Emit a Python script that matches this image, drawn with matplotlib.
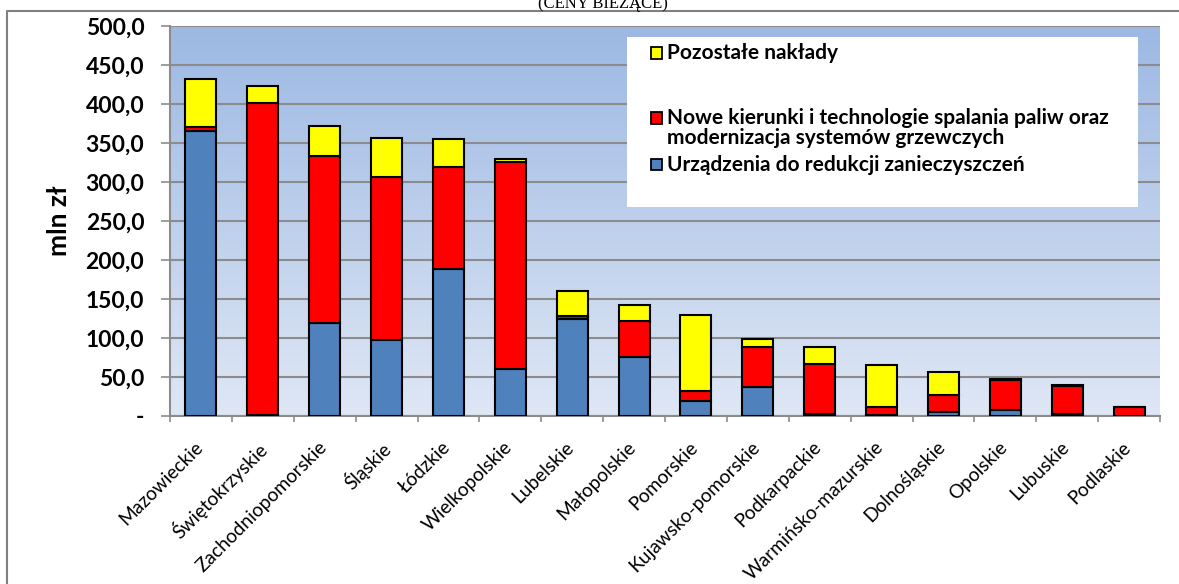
import numpy as np
import matplotlib
matplotlib.use('Agg')
import matplotlib.pyplot as plt
import matplotlib.transforms as mtransforms
from matplotlib.patches import Rectangle
from matplotlib.lines import Line2D
from matplotlib.ticker import FuncFormatter, FixedLocator

# data (mln zł)
regions = ['Mazowieckie', 'Świętokrzyskie', 'Zachodniopomorskie', 'Śląskie', 'Łódzkie',
           'Wielkopolskie', 'Lubelskie', 'Małopolskie', 'Pomorskie', 'Kujawsko-pomorskie',
           'Podkarpackie', 'Warmińsko-mazurskie', 'Dolnośląskie', 'Opolskie', 'Lubuskie', 'Podlaskie']
urzadzenia = [365, 1, 119, 98, 188, 60, 124, 76, 19, 37, 2, 1, 5, 8, 3, 0]
nowe_kierunki = [5, 400, 214, 208, 131, 266, 4, 46, 13, 51, 65, 10, 22, 38, 35, 11]
pozostale = [62, 22, 39, 50, 36, 3, 32, 20, 97, 11, 21, 55, 29, 2, 2, 1]

series_labels = ['Pozostałe nakłady',
                 ['Nowe kierunki i technologie spalania paliw oraz', 'modernizacja systemów grzewczych'],
                 'Urządzenia do redukcji zanieczyszczeń']
c_blue, c_red, c_yellow = '#4F81BD', '#FF0000', '#FFFF00'

W, H = 1179, 584
plt.rcParams['font.family'] = ['Lato', 'DejaVu Sans']

fig = plt.figure(figsize=(W / 100, H / 100), dpi=100)
ax = fig.add_axes([170 / W, 1 - 416 / H, (1160 - 170) / W, (416 - 26) / H])


def fpx(x, y):
    # pixel -> figure fraction
    return x / W, 1 - y / H


# background gradient of the plot area
grad = np.linspace(0, 1, 256).reshape(-1, 1)
cmap = matplotlib.colors.LinearSegmentedColormap.from_list('bg', ['#DFE7F5', '#9CB8E3'])
ax.imshow(grad, extent=[-0.5, 15.5, 0, 500], origin='lower', aspect='auto', cmap=cmap, zorder=0)

x = np.arange(len(regions))
width = 0.5
b1 = np.array(urzadzenia)
b2 = b1 + np.array(nowe_kierunki)
ax.bar(x, urzadzenia, width, color=c_blue, edgecolor='black', linewidth=1.5, zorder=3)
ax.bar(x, nowe_kierunki, width, bottom=b1, color=c_red, edgecolor='black', linewidth=1.5, zorder=3)
ax.bar(x, pozostale, width, bottom=b2, color=c_yellow, edgecolor='black', linewidth=1.5, zorder=3)

ax.set_xlim(-0.5, 15.5)
ax.set_ylim(0, 500)
ax.set_yticks(np.arange(0, 501, 50))
ax.yaxis.set_major_formatter(FuncFormatter(lambda v, p: '-' if v == 0 else f'{v:.1f}'.replace('.', ',')))
ax.grid(axis='y', color='#8C8C8C', linewidth=1.5, zorder=1)
ax.set_axisbelow(True)
for t in ax.get_yticklabels():
    t.set_fontweight('bold')
    t.set_fontsize(16.5)
ax.tick_params(axis='y', length=6.5, width=1.2, color='#8C8C8C', pad=12)

ax.set_xticks(x)
ax.set_xticklabels(regions, rotation=45, ha='right', va='top', rotation_mode='anchor', fontsize=13.8)
ax.tick_params(axis='x', which='major', length=0, pad=16)
shift = mtransforms.ScaledTranslation(-7 / 100, 0, fig.dpi_scale_trans)
for t in ax.get_xticklabels():
    t.set_transform(t.get_transform() + shift)
ax.xaxis.set_minor_locator(FixedLocator(np.arange(-0.5, 16, 1)))
ax.tick_params(axis='x', which='minor', length=4.5, width=1.2, color='#8C8C8C')

for s in ['top', 'right']:
    ax.spines[s].set_visible(False)
for s in ['left', 'bottom']:
    ax.spines[s].set_color('#8C8C8C')
    ax.spines[s].set_linewidth(1.5)

fig.text(*fpx(59, 221), 'mln zł', rotation=90, ha='center', va='center', fontsize=19, fontweight='bold')

# legend box drawn by hand (Excel-like spacing)
x0, y0 = fpx(627, 207)
x1, y1 = fpx(1138, 37)
fig.add_artist(Rectangle((x0, y0), x1 - x0, y1 - y0, transform=fig.transFigure,
                         facecolor='white', edgecolor='none', zorder=5))
entries = [(c_yellow, series_labels[0], 53), (c_red, series_labels[1], 118), (c_blue, series_labels[2], 165)]
for col, lab, yc in entries:
    sx, sy = fpx(651, yc + 5.5)
    fig.add_artist(Rectangle((sx, sy), 11 / W, 11 / H, transform=fig.transFigure,
                             facecolor=col, edgecolor='black', linewidth=1.3, zorder=6))
    lines = lab if isinstance(lab, list) else [lab]
    for i, line in enumerate(lines):
        fig.text(*fpx(667, yc + 20 * i), line, ha='left', va='center', fontsize=15,
                 fontweight='bold', zorder=7)

# outer frame (left and top edges visible)
fig.add_artist(Line2D([7 / W, 7 / W, 1], [0, 1 - 10.5 / H, 1 - 10.5 / H], transform=fig.transFigure,
                      color='#808080', linewidth=1.5))

# title, mostly cut off at the top
fig.text(*fpx(603, 8), '(CENY BIEŻĄCE)', ha='center', va='baseline', fontsize=12,
         family='Liberation Serif')

fig.savefig('out.png', dpi=100)
